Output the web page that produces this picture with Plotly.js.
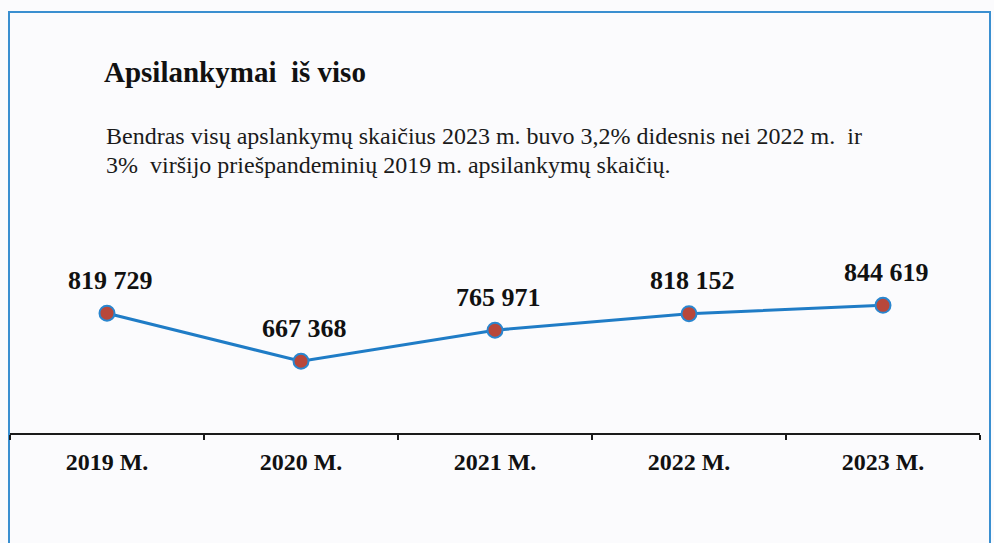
<!DOCTYPE html>
<html>
<head>
<meta charset="utf-8">
<script src="https://cdn.plot.ly/plotly-3.0.1.min.js"></script>
<style>
  html, body { margin: 0; padding: 0; background: #fbfbfd; }
  #chart { width: 994px; height: 543px; }
</style>
</head>
<body>
<div id="chart"></div>
<script>
const categories = ["2019 M.", "2020 M.", "2021 M.", "2022 M.", "2023 M."];
const visits = [819729, 667368, 765971, 818152, 844619];
const visitLabels = ["819 729", "667 368", "765 971", "818 152", "844 619"];
const titleText = "Apsilankymai&nbsp; iš viso";
const subtitleLines = [
  "Bendras visų apslankymų skaičius 2023 m. buvo 3,2% didesnis nei 2022 m.&nbsp; ir",
  "3%&nbsp; viršijo priešpandeminių 2019 m. apsilankymų skaičių."
];

const serif = "Liberation Serif, Times New Roman, serif";

const trace = {
  x: categories,
  y: visits,
  type: "scatter",
  mode: "lines+markers",
  line: { color: "#1f7cc6", width: 3 },
  marker: { size: 15, color: "#b8473a", line: { color: "#2a86cf", width: 2 } },
  hoverinfo: "skip"
};

const annotations = categories.map((c, i) => ({
  x: c, y: visits[i], xref: "x", yref: "y",
  text: "<b>" + visitLabels[i] + "</b>",
  showarrow: false, yshift: 33, xshift: 3,
  font: { family: serif, size: 26, color: "#111" }
}));
subtitleLines.forEach((t, i) => {
  annotations.push({
    xref: "paper", yref: "paper",
    x: (104 - 10) / 970, y: (433 - (136 + i * 29)) / 183,
    xanchor: "left", yanchor: "middle",
    text: t, showarrow: false,
    font: { family: serif, size: 24, color: "#1a1a1a" }
  });
});

const layout = {
  width: 994, height: 543,
  margin: { l: 10, r: 14, t: 250, b: 110 },
  paper_bgcolor: "#fbfbfd",
  plot_bgcolor: "rgba(0,0,0,0)",
  showlegend: false,
  title: {
    text: "<b>" + titleText + "</b>",
    xref: "container", yref: "container",
    x: 104 / 994, xanchor: "left",
    y: 1 - 72 / 543, yanchor: "middle",
    font: { family: serif, size: 29, color: "#111" }
  },
  xaxis: {
    type: "category",
    range: [-0.5, 4.5],
    showline: true, linecolor: "#1a1a1a", linewidth: 2,
    ticks: "outside", tickson: "boundaries", ticklen: 5, tickwidth: 2, tickcolor: "#1a1a1a",
    showgrid: false, zeroline: false,
    tickfont: { family: serif, size: 24, color: "#111", weight: "bold" },
    ticklabelstandoff: 6
  },
  yaxis: {
    range: [440000, 1020000],
    visible: false, showgrid: false, zeroline: false
  },
  annotations: annotations,
  shapes: [{
    type: "rect", xref: "paper", yref: "paper",
    x0: -1 / 970, x1: 980 / 970,
    y0: -0.7, y1: (433 - 12) / 183,
    line: { color: "#3a8fd0", width: 2 },
    fillcolor: "rgba(0,0,0,0)", layer: "below"
  }]
};

Plotly.newPlot("chart", [trace], layout, { displayModeBar: false, staticPlot: true });
</script>
</body>
</html>
